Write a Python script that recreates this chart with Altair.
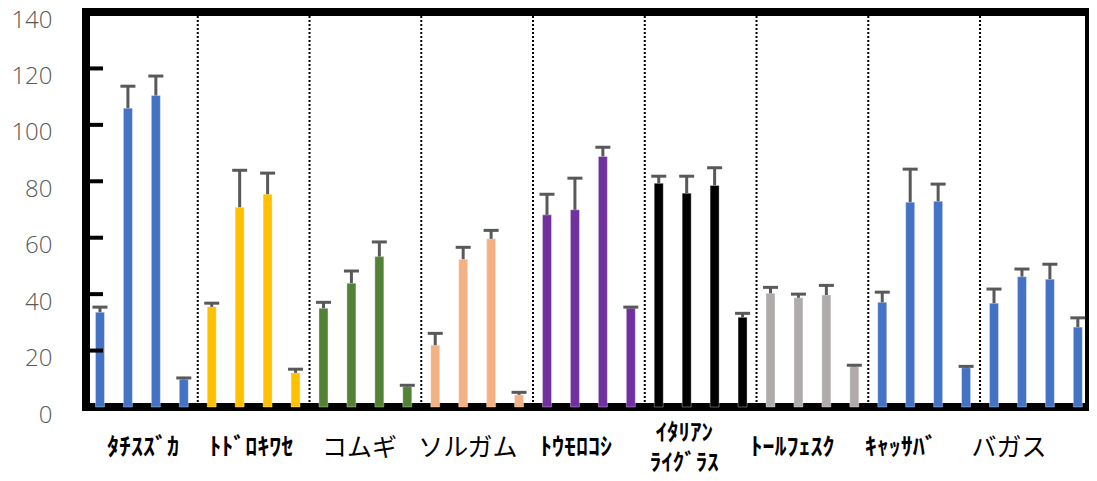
import altair as alt
import pandas as pd

# ---- data ----
groups = ["ﾀﾁｽｽﾞｶ", "ﾄﾄﾞﾛｷﾜｾ", "コムギ", "ソルガム", "ﾄｳﾓﾛｺｼ",
          "ｲﾀﾘｱﾝ\nﾗｲｸﾞﾗｽ", "ﾄｰﾙﾌｪｽｸ", "ｷｬｯｻﾊﾞ", "バガス"]
means = [
    [33.6, 105.9, 110.4, 9.8],
    [35.5, 70.8, 75.4, 12.1],
    [35.0, 43.9, 53.3, 7.2],
    [21.9, 52.4, 59.6, 4.3],
    [68.1, 69.9, 88.8, 35.0],
    [79.3, 75.8, 78.5, 31.8],
    [40.3, 38.7, 39.7, 14.3],
    [37.1, 72.6, 72.9, 13.9],
    [36.8, 46.2, 45.3, 28.3],
]
errors = [
    [1.8, 7.8, 6.9, 0.5],
    [1.3, 13.1, 7.5, 1.3],
    [2.1, 4.3, 5.2, 0.5],
    [4.2, 4.2, 3.0, 0.9],
    [7.3, 11.2, 3.3, 0.4],
    [2.5, 6.0, 6.3, 1.4],
    [2.1, 1.3, 3.4, 0.5],
    [3.6, 11.7, 6.1, 0.5],
    [5.0, 2.7, 5.3, 3.3],
]
group_colors = ["#4472C4", "#FFC000", "#548235", "#F4B183", "#7030A0",
                "#000000", "#AFABAB", "#4472C4", "#4472C4"]
y_ticks = [0, 20, 40, 60, 80, 100, 120, 140]
inner_ticks = [20, 40, 60, 80, 100, 120]

n_per = 4
rows = []
for g, name in enumerate(groups):
    for j in range(n_per):
        m = means[g][j]
        e = errors[g][j]
        rows.append({"grp": name, "pos": g * n_per + j + 0.5,
                     "mean": m, "top": m + e})
df = pd.DataFrame(rows)

sep_df = pd.DataFrame({"pos": [g * n_per for g in range(1, len(groups))]})
tick_df = pd.DataFrame({"v": inner_ticks})


def is_half(s):
    return all(("\uff61" <= c <= "\uff9f") or c == "\n" for c in s)


lab_df = pd.DataFrame({"g": list(range(len(groups))), "name": groups,
                       "half": [is_half(s) for s in groups],
                       "multi": ["\n" in s for s in groups]})

W, H = 1003, 395
LINE_H = 30
# the right edge of the last group is trimmed by the plot frame
xscale = alt.Scale(domain=[0, len(groups) * n_per - 0.1], nice=False,
                   zero=False, padding=0)
yscale = alt.Scale(domain=[0, 140], nice=False, padding=0)

yaxis = alt.Axis(values=y_ticks, domain=False, ticks=False, grid=False,
                 labelFontSize=24, labelColor="#595959", labelPadding=34,
                 labelOffset=8, labelFont="Open Sans", labelFontWeight=300,
                 title=None)

base = alt.Chart(df)

bars = base.mark_bar(size=9, stroke="white", strokeOpacity=0.35,
                     strokeWidth=1).encode(
    x=alt.X("pos:Q", scale=xscale, axis=None),
    y=alt.Y("mean:Q", scale=yscale, axis=yaxis, stack=None),
    color=alt.Color("grp:N", scale=alt.Scale(domain=groups, range=group_colors),
                    legend=None),
)

stems = base.mark_rule(color="#595959", strokeWidth=3).encode(
    x=alt.X("pos:Q", scale=xscale, axis=None),
    y=alt.Y("mean:Q", scale=yscale),
    y2="top:Q",
)

caps = base.mark_tick(orient="horizontal", size=15, thickness=3,
                      color="#595959", opacity=1).encode(
    x=alt.X("pos:Q", scale=xscale, axis=None),
    y=alt.Y("top:Q", scale=yscale),
)

seps = alt.Chart(sep_df).mark_rule(color="black", strokeWidth=2,
                                   strokeDash=[2, 2]).encode(
    x=alt.X("pos:Q", scale=xscale, axis=None),
)

inticks = alt.Chart(tick_df).mark_rule(color="black", strokeWidth=4).encode(
    x=alt.value(0), x2=alt.value(17),
    y=alt.Y("v:Q", scale=yscale),
)

lab_scale = alt.Scale(domain=[-0.5266, 8.739], nice=False, zero=False, padding=0)


def label_layer(filt, weight, size, dy):
    return alt.Chart(lab_df).transform_filter(filt).mark_text(
        font="Noto Sans CJK JP", fontSize=size, fontWeight=weight,
        color="black", baseline="middle", align="center",
        lineBreak="\n", lineHeight=LINE_H, dy=dy,
    ).encode(
        x=alt.X("g:Q", scale=lab_scale, axis=None),
        y=alt.value(H + 41),
        text="name:N",
    )


lab_half = label_layer("datum.half && !datum.multi", "bold", 24, 0)
lab_multi = label_layer("datum.half && datum.multi", "bold", 23, -15)
lab_full = label_layer("!datum.half", "normal", 25, 0)

main = alt.layer(seps, bars, stems, caps, inticks)
labels = alt.layer(lab_half, lab_multi, lab_full)

chart = alt.layer(main, labels).resolve_scale(x="independent").properties(
    width=W, height=H,
    autosize=alt.AutoSizeParams(type="none"),
    padding={"left": 78, "top": 4, "right": 0, "bottom": 72},
).configure_view(stroke="black", strokeWidth=8)

chart.save("out.html", embed_options={"renderer": "svg", "actions": False})
